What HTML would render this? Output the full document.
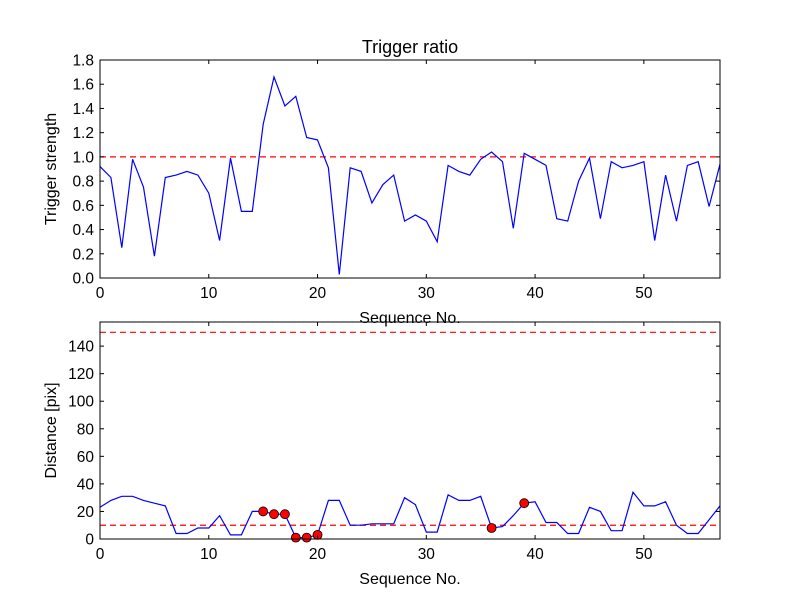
<!DOCTYPE html>
<html><head><meta charset="utf-8"><style>
body{margin:0;background:#fff;}
svg{display:block;font-family:"Liberation Sans","DejaVu Sans",sans-serif;}
</style></head><body>
<svg id="c" width="800" height="600"></svg>
<script>
const seqTop = [0.92,0.83,0.25,0.98,0.75,0.18,0.83,0.85,0.88,0.85,0.70,0.31,0.99,0.55,0.55,1.27,1.66,1.42,1.50,1.16,1.14,0.91,0.03,0.91,0.88,0.62,0.77,0.85,0.47,0.52,0.47,0.30,0.93,0.88,0.85,0.98,1.04,0.96,0.41,1.03,0.98,0.93,0.49,0.47,0.80,0.99,0.49,0.96,0.91,0.93,0.96,0.31,0.85,0.47,0.93,0.96,0.59,0.94];
const distVals = [23,28,31,31,28,26,24,4,4,8,8,17,3,3,20,20,18,18,1,1,3,28,28,10,10,11,11,11,30,25,5,5,32,28,28,31,8,9,17,26,27,12,12,4,4,23,20,6,6,34,24,24,27,10,4,4,14,24];
const markIdx = [15,16,17,18,19,20,36,39];
const topTicks = [0,0.2,0.4,0.6,0.8,1.0,1.2,1.4,1.6,1.8];
const botTicks = [0,20,40,60,80,100,120,140];
const xTicks = [0,10,20,30,40,50];
const topThresh = [1.0];
const botThresh = [10,150];

const NS='http://www.w3.org/2000/svg';
const svg=document.getElementById('c');
function mk(t,a,p){const e=document.createElementNS(NS,t);for(const k in a)e.setAttribute(k,a[k]);(p||svg).appendChild(e);return e;}
const X0=100,X1=720,XMAX=57;
const sx=v=>X0+v/XMAX*(X1-X0);

function panel(top,bot,ymax,ticks,fmt,vals,thresh,name,ylabel,title,marks){
  const sy=v=>bot-v/ymax*(bot-top);
  const g=mk('g',{});
  
  
  thresh.forEach(t=>{const l=mk('line',{x1:X0,x2:X1,y1:sy(t),y2:sy(t),stroke:'#ff0000','stroke-width':1.2,'stroke-dasharray':'6,4'},g);
    });
  const d=vals.map((v,i)=>(i?'L':'M')+sx(i).toFixed(1)+','+sy(v).toFixed(1)).join('');
  const p=mk('path',{d:d,fill:'none',stroke:'#0000ff','stroke-width':1.2},g);
  
  if(marks)marks.forEach(i=>{const c=mk('circle',{cx:sx(i),cy:sy(vals[i]),r:4.5,fill:'#ff0000',stroke:'#000','stroke-width':0.8},g);
    });
  const fr=mk('rect',{x:X0,y:top,width:X1-X0,height:bot-top,fill:'none',stroke:'#000','stroke-width':1},g);
  
  ticks.forEach(t=>{const y=sy(t);
    mk('line',{x1:X0,x2:X0+4,y1:y,y2:y,stroke:'#000'},g);mk('line',{x1:X1,x2:X1-4,y1:y,y2:y,stroke:'#000'},g);
    const tx=mk('text',{x:X0-6,y:y+5.5,'text-anchor':'end','font-size':15.5},g);tx.textContent=fmt(t);
    });
  xTicks.forEach(t=>{const x=sx(t);
    mk('line',{x1:x,x2:x,y1:bot,y2:bot-4,stroke:'#000'},g);mk('line',{x1:x,x2:x,y1:top,y2:top+4,stroke:'#000'},g);
    const tx=mk('text',{x:x,y:bot+20,'text-anchor':'middle','font-size':15.5},g);tx.textContent=t;
    });
  const xl=mk('text',{x:(X0+X1)/2,y:bot+45,'text-anchor':'middle','font-size':16},g);xl.textContent='Sequence No.';
  
  const yl=mk('text',{x:0,y:0,'text-anchor':'middle','font-size':16,transform:'translate(56,'+((top+bot)/2)+') rotate(-90)'},g);yl.textContent=ylabel;
  
  if(title){const tt=mk('text',{x:(X0+X1)/2,y:top-7,'text-anchor':'middle','font-size':18},g);tt.textContent=title;
    }
}
panel(60,278,1.8,topTicks,t=>t.toFixed(1),seqTop,topThresh,'trigger-panel','Trigger strength','Trigger ratio',null);
panel(322,539,157.5,botTicks,t=>String(t),distVals,botThresh,'distance-panel','Distance [pix]',null,markIdx);
</script>
</body></html>
